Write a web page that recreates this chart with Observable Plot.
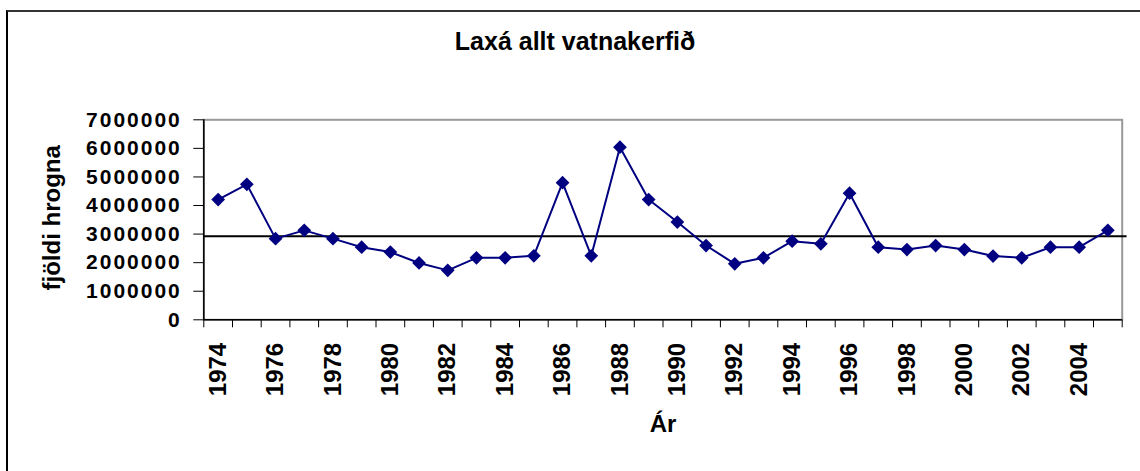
<!DOCTYPE html>
<html><head><meta charset="utf-8">
<script src="https://cdn.jsdelivr.net/npm/d3@7"></script>
<script src="https://cdn.jsdelivr.net/npm/@observablehq/plot@0.6"></script>
<style>
html,body{margin:0;padding:0;background:#fff;}
#wrap{position:relative;width:1140px;height:471px;overflow:hidden;font-family:"Liberation Sans",Arial,sans-serif;}
#border{position:absolute;left:6px;top:10px;width:1300px;height:700px;border-left:2px solid #000;border-top:2px solid #333;}
#title{position:relative;height:100px;box-sizing:border-box;padding-top:28.5px;padding-left:10px;text-align:center;font-size:25px;line-height:25px;font-weight:bold;color:#000;}
#chart{position:relative;}
#chart svg{display:block;}
g[aria-label="y-axis tick label"]{letter-spacing:2px;}
</style></head>
<body><div id="wrap"><div id="border"></div><div id="title"></div><div id="chart"></div></div>
<script>
const title = "Laxá allt vatnakerfið";
const xTitle = "Ár";
const yTitle = "fjöldi hrogna";
const years = [1974,1975,1976,1977,1978,1979,1980,1981,1982,1983,1984,1985,1986,1987,1988,1989,
               1990,1991,1992,1993,1994,1995,1996,1997,1998,1999,2000,2001,2002,2003,2004,2005];
const eggs = [4210000,4740000,2840000,3130000,2840000,2540000,2370000,1990000,1730000,2170000,2170000,2240000,4800000,2240000,6040000,4210000,
              3420000,2600000,1960000,2170000,2750000,2660000,4430000,2540000,2460000,2600000,2460000,2230000,2170000,2540000,2540000,3130000];
const meanLine = [2920000];
const yTicks = [0,1000000,2000000,3000000,4000000,5000000,6000000,7000000];
const xLabelYears = [1974,1976,1978,1980,1982,1984,1986,1988,1990,1992,1994,1996,1998,2000,2002,2004];

document.getElementById("title").textContent = title;
const data = years.map((year, i) => ({year, eggs: eggs[i]}));
const boundaries = years.map(y => y - 0.5).concat([years[years.length - 1] + 0.5]);
const x0 = years[0] - 0.5, x1 = years[years.length - 1] + 0.5;

const chart = Plot.plot({
  width: 1140, height: 371,
  marginLeft: 203.3, marginRight: 18.3, marginTop: 19.3, marginBottom: 151.7,
  x: {domain: [x0, x1], label: null},
  y: {domain: [0, 7000000], label: null},
  style: {fontFamily: '"Liberation Sans", Arial, sans-serif', fontWeight: "bold", color: "#000", background: "transparent", overflow: "visible"},
  marks: [
    Plot.frame({stroke: "#999", strokeWidth: 2}),
    Plot.ruleY(meanLine, {x1: x0, x2: x1 + 0.17, stroke: "#000", strokeWidth: 2}),
    Plot.ruleX([x0], {stroke: "#000", strokeWidth: 1.5}),
    Plot.ruleY([0], {stroke: "#000", strokeWidth: 1.5}),
    Plot.axisY({ticks: yTicks, tickSize: 10, tickPadding: 12, tickFormat: d3.format("d"), fontSize: 21, stroke: "#000", label: null}),
    Plot.axisX({ticks: boundaries, tickSize: 8, tickFormat: () => "", stroke: "#000", label: null}),
    Plot.axisX({ticks: xLabelYears, tickSize: 0, tickPadding: 23, tickRotate: -90, textAnchor: "end", lineAnchor: "middle", fontSize: 24, tickFormat: d3.format("d"), label: null}),
    Plot.line(data, {x: "year", y: "eggs", stroke: "#000080", strokeWidth: 2}),
    Plot.dot(data, {x: "year", y: "eggs", symbol: "diamond2", r: 6.2, fill: "#000080"}),
    Plot.text([xTitle], {frameAnchor: "bottom", dy: 112.4, lineAnchor: "bottom", fontSize: 24}),
    Plot.text([yTitle], {frameAnchor: "left", textAnchor: "middle", rotate: -90, dx: -151, dy: -2, fontSize: 24})
  ]
});
document.getElementById("chart").appendChild(chart);
</script>
</body></html>
